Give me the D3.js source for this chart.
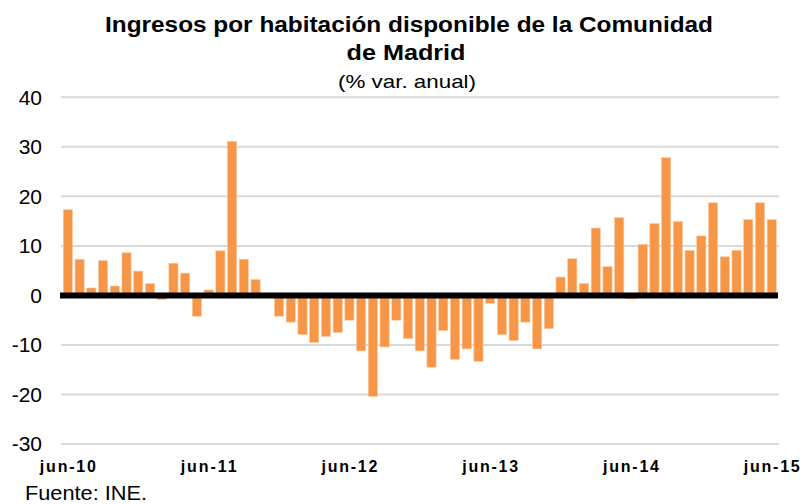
<!DOCTYPE html>
<html>
<head>
<meta charset="utf-8">
<script src="https://cdn.jsdelivr.net/npm/d3@7"></script>
<style>
  html, body { margin: 0; padding: 0; background: #fff; }
  svg { display: block; font-family: "Liberation Sans", Arial, Helvetica, sans-serif; }
</style>
</head>
<body>
<svg id="chart" width="804" height="504"></svg>
<script>
const months = [
  "jun-10","jul-10","ago-10","sep-10","oct-10","nov-10","dic-10",
  "ene-11","feb-11","mar-11","abr-11","may-11","jun-11","jul-11","ago-11","sep-11","oct-11","nov-11","dic-11",
  "ene-12","feb-12","mar-12","abr-12","may-12","jun-12","jul-12","ago-12","sep-12","oct-12","nov-12","dic-12",
  "ene-13","feb-13","mar-13","abr-13","may-13","jun-13","jul-13","ago-13","sep-13","oct-13","nov-13","dic-13",
  "ene-14","feb-14","mar-14","abr-14","may-14","jun-14","jul-14","ago-14","sep-14","oct-14","nov-14","dic-14",
  "ene-15","feb-15","mar-15","abr-15","may-15","jun-15"
];
const values = [
  17.3, 7.3, 1.5, 7.0, 1.9, 8.6, 4.9,
  2.4, -0.8, 6.5, 4.5, -4.2, 1.1, 9.0, 31.1, 7.3, 3.2, 0.2, -4.2,
  -5.4, -7.9, -9.5, -8.3, -7.5, -5.0, -11.2, -20.4, -10.4, -5.0, -8.7, -11.2,
  -14.5, -7.1, -12.9, -10.8, -13.3, -1.6, -7.9, -9.1, -5.4, -10.8, -6.7, 3.7,
  7.4, 2.4, 13.6, 5.8, 15.7, -0.7, 10.3, 14.5, 27.8, 14.9, 9.1, 12.0,
  18.7, 7.8, 9.1, 15.3, 18.7, 15.3
];
const yTicks = [40, 30, 20, 10, 0, -10, -20, -30];
const xTickLabels = ["jun-10","jun-11","jun-12","jun-13","jun-14","jun-15"];

const titleLines = ["Ingresos por habitación disponible de la Comunidad", "de Madrid"];
const subtitle = "(% var. anual)";
const source = "Fuente: INE.";

const svg = d3.select("#chart");

const x = d3.scaleBand()
  .domain(months)
  .range([62, 777.6])
  .paddingInner(0.22)
  .paddingOuter(0.11);

const y = d3.scaleLinear()
  .domain([-30, 40])
  .range([444, 97.3]);

// gridlines
svg.append("g")
  .selectAll("line")
  .data(yTicks.filter(d => d !== 0))
  .join("line")
  .attr("x1", 61).attr("x2", 779)
  .attr("y1", d => y(d)).attr("y2", d => y(d))
  .attr("stroke", "#d9d9d9")
  .attr("stroke-width", 2);

// y tick labels
svg.append("g")
  .selectAll("text")
  .data(yTicks)
  .join("text")
  .attr("x", 42)
  .attr("y", d => y(d))
  .attr("dy", "0.35em")
  .attr("text-anchor", "end")
  .attr("font-size", 21)
  .attr("fill", "#000")
  .text(d => d);

// bars
svg.append("g")
  .selectAll("rect")
  .data(values)
  .join("rect")
  .attr("x", (d, i) => x(months[i]))
  .attr("width", x.bandwidth())
  .attr("y", d => y(Math.max(0, d)))
  .attr("height", d => Math.abs(y(d) - y(0)))
  .attr("fill", "#f79646")
  .attr("stroke", "#fbc79b")
  .attr("stroke-width", 0.6);

// zero line
svg.append("line")
  .attr("x1", 60).attr("x2", 778)
  .attr("y1", y(0)).attr("y2", y(0))
  .attr("stroke", "#000")
  .attr("stroke-width", 6);

// x tick labels
svg.append("g")
  .selectAll("text")
  .data(xTickLabels)
  .join("text")
  .attr("x", d => x(d) + x.bandwidth() / 2)
  .attr("y", 472)
  .attr("text-anchor", "middle")
  .attr("font-size", 16)
  .attr("font-weight", "bold")
  .attr("textLength", 56)
  .attr("lengthAdjust", "spacing")
  .text(d => d);

// title
svg.append("text")
  .attr("x", 409).attr("y", 32)
  .attr("text-anchor", "middle")
  .attr("font-size", 22)
  .attr("font-weight", "bold")
  .attr("textLength", 608)
  .attr("lengthAdjust", "spacingAndGlyphs")
  .text(titleLines[0]);
svg.append("text")
  .attr("x", 406).attr("y", 60)
  .attr("text-anchor", "middle")
  .attr("font-size", 22)
  .attr("font-weight", "bold")
  .attr("textLength", 119)
  .attr("lengthAdjust", "spacingAndGlyphs")
  .text(titleLines[1]);
svg.append("text")
  .attr("x", 407).attr("y", 88)
  .attr("text-anchor", "middle")
  .attr("font-size", 19)
  .attr("textLength", 138)
  .attr("lengthAdjust", "spacingAndGlyphs")
  .text(subtitle);

// source
svg.append("text")
  .attr("x", 25).attr("y", 500)
  .attr("font-size", 20)
  .attr("textLength", 122)
  .attr("lengthAdjust", "spacingAndGlyphs")
  .text(source);
</script>
</body>
</html>
